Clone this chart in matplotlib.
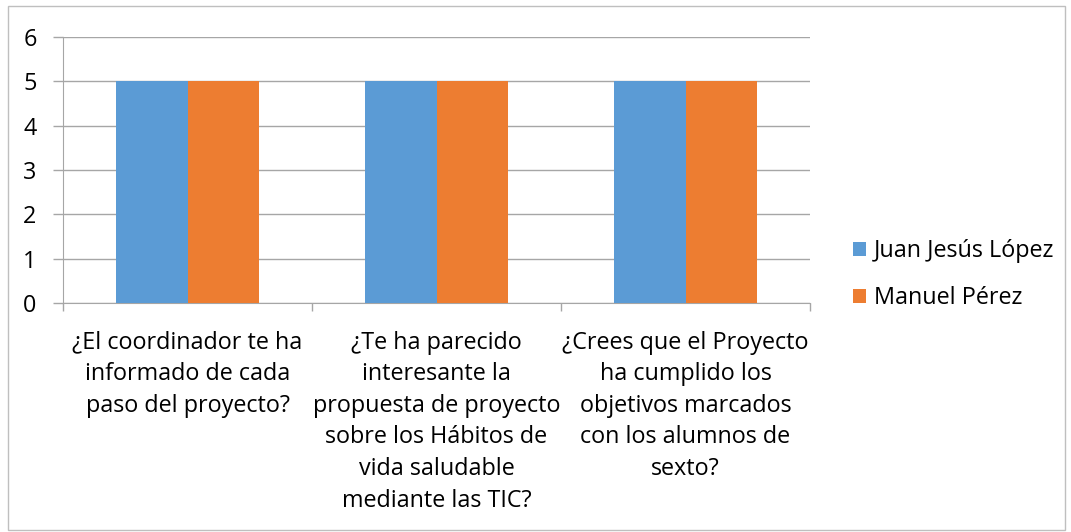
import matplotlib.pyplot as plt
from matplotlib.patches import Rectangle
import numpy as np

categories = [
    "¿El coordinador te ha\ninformado de cada\npaso del proyecto?",
    "¿Te ha parecido\ninteresante la\npropuesta de proyecto\nsobre los Hábitos de\nvida saludable\nmediante las TIC?",
    "¿Crees que el Proyecto\nha cumplido los\nobjetivos marcados\ncon los alumnos de\nsexto?",
]
series_names = ["Juan Jesús López", "Manuel Pérez"]
juan = [5, 5, 5]
manuel = [5, 5, 5]
colors_ = ["#5B9BD5", "#ED7D31"]
yticks = [0, 1, 2, 3, 4, 5, 6]

plt.rcParams['font.family'] = ['Open Sans', 'DejaVu Sans']
fs = 16.8

fig = plt.figure(figsize=(10.71, 5.32), dpi=100)
ax = fig.add_axes([63 / 1071, 1 - 303 / 532, (810 - 63) / 1071, (303 - 37) / 532])

x = np.arange(len(categories))
w = 1 / 3.5
ax.bar(x - w / 2, juan, w, color=colors_[0], label=series_names[0], zorder=3)
ax.bar(x + w / 2, manuel, w, color=colors_[1], label=series_names[1], zorder=3)

ax.set_xlim(-0.5, len(categories) - 0.5)
ax.set_ylim(0, 6)
ax.set_yticks(yticks)
ax.set_yticklabels([str(v) for v in yticks], fontsize=fs)
ax.yaxis.grid(True, color='#A6A6A6', linewidth=1, zorder=0)
ax.tick_params(axis='y', length=7, color='#A6A6A6', width=1, pad=12)

# category boundary ticks
ax.set_xticks(np.arange(len(categories) + 1) - 0.5)
ax.set_xticklabels([])
ax.tick_params(axis='x', length=6, color='#A6A6A6', width=1)
for i, lab in enumerate(categories):
    ax.annotate(lab, xy=(i, 0), xycoords='data', xytext=(0, -20),
                textcoords='offset points', ha='center', va='top',
                fontsize=fs, linespacing=1.42)

for s in ['top', 'right']:
    ax.spines[s].set_visible(False)
for s in ['left', 'bottom']:
    ax.spines[s].set_color('#A6A6A6')

leg = fig.legend(loc='upper left', bbox_to_anchor=(832 / 1071, 1 - 218 / 532),
                 frameon=False, fontsize=fs, handlelength=0.56, handleheight=0.56,
                 handletextpad=0.34, labelspacing=0.98)

fig.patches.append(Rectangle((8 / 1071, 1 - 530 / 532), 1057 / 1071, 524 / 532,
                             transform=fig.transFigure, fill=False,
                             edgecolor='#BFBFBF', linewidth=1))

fig.savefig('out.png', dpi=100)
